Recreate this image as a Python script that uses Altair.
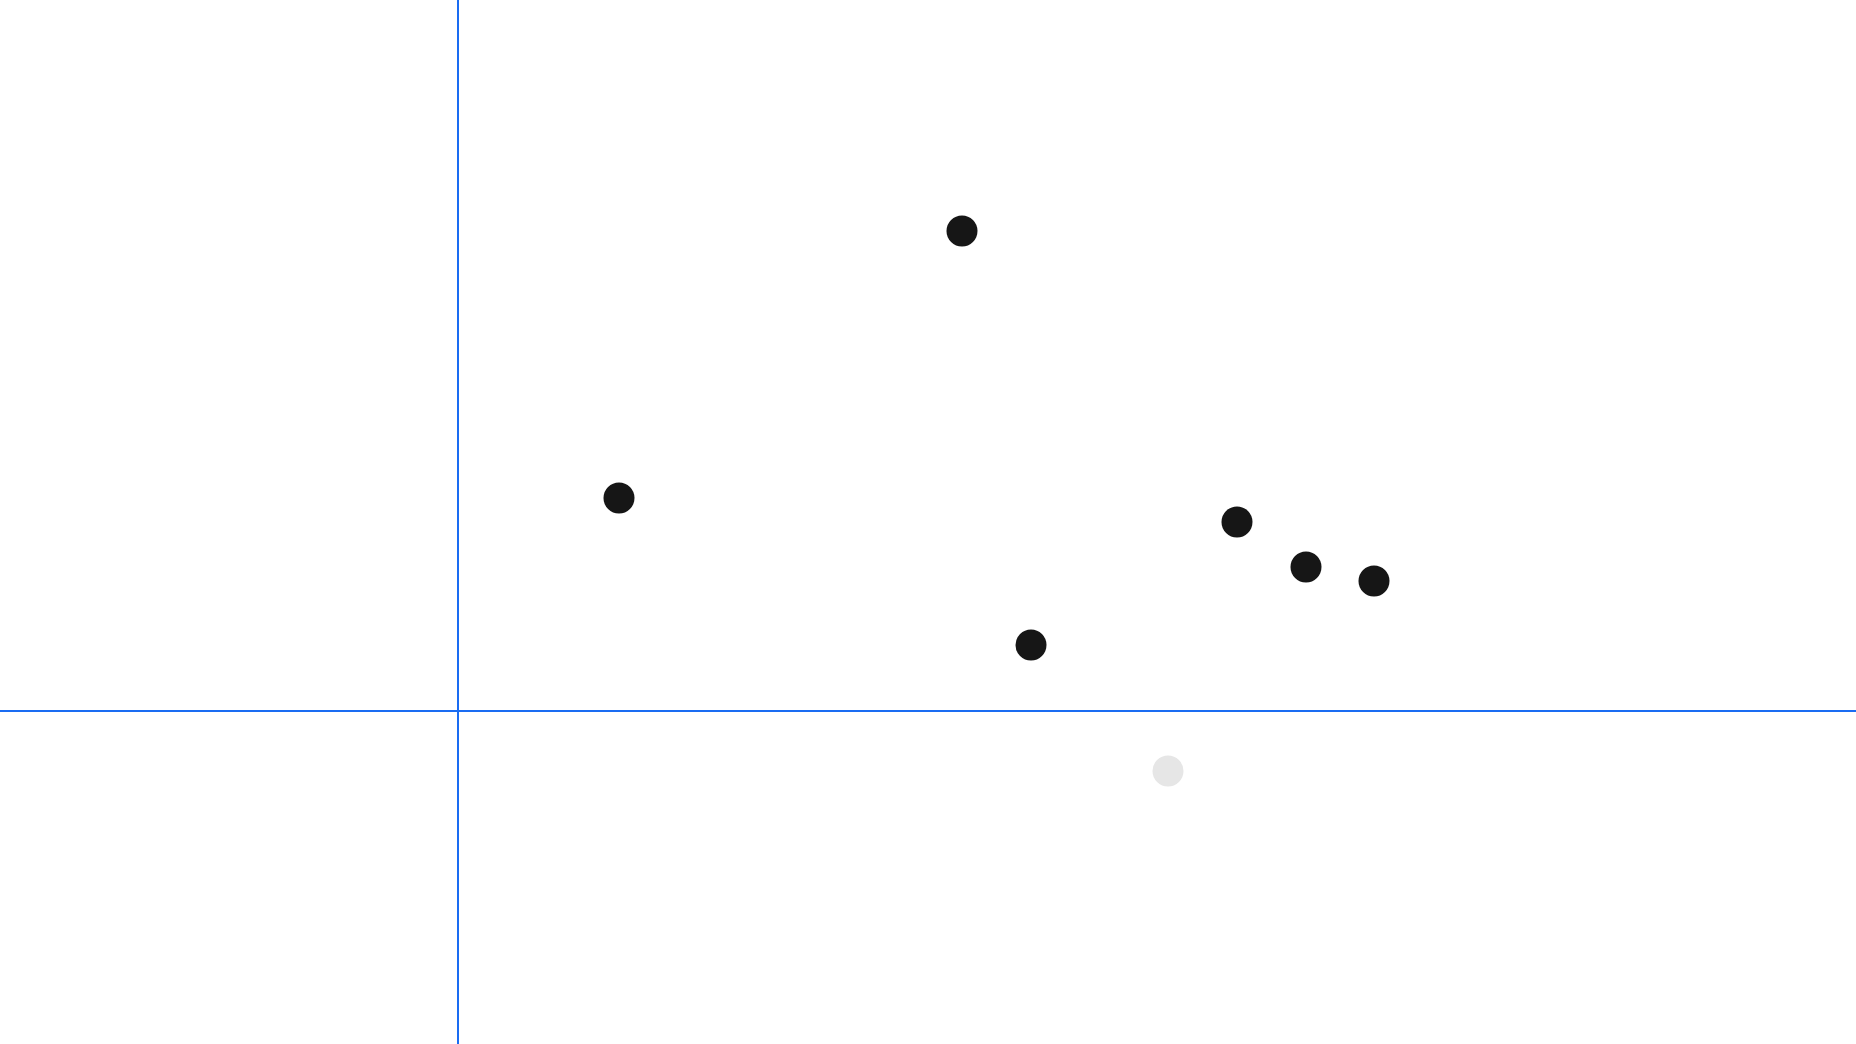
import altair as alt
import pandas as pd

# Point data (arbitrary units; origin at the crossing of the two reference lines)
labels = ["A", "B", "C", "D", "E", "F", "G"]
x_vals = [50.4, 16.1, 57.3, 77.9, 84.8, 91.6, 71.0]
y_vals = [48.0, 21.3, 6.6, 18.9, 14.4, 13.0, -6.0]
groups = ["main", "main", "main", "main", "main", "main", "faded"]

x_domain = [-45.8, 139.8]
y_domain = [-33.3, 71.1]

df = pd.DataFrame({"label": labels, "x": x_vals, "y": y_vals, "group": groups})
ref_x = pd.DataFrame({"x": [0]})
ref_y = pd.DataFrame({"y": [0]})

xs = alt.Scale(domain=x_domain, nice=False, zero=False)
ys = alt.Scale(domain=y_domain, nice=False, zero=False)

vline = alt.Chart(ref_x).mark_rule(color="#1a6cf2", strokeWidth=2).encode(
    x=alt.X("x:Q", scale=xs, axis=None)
)
hline = alt.Chart(ref_y).mark_rule(color="#1a6cf2", strokeWidth=2).encode(
    y=alt.Y("y:Q", scale=ys, axis=None)
)
points = alt.Chart(df).mark_circle(size=961, opacity=1).encode(
    x=alt.X("x:Q", scale=xs, axis=None),
    y=alt.Y("y:Q", scale=ys, axis=None),
    color=alt.Color(
        "group:N",
        scale=alt.Scale(domain=["main", "faded"], range=["#161616", "#e6e6e6"]),
        legend=None,
    ),
)

chart = (
    alt.layer(vline, hline, points)
    .properties(
        width=1856,
        height=1044,
        padding=0,
        autosize=alt.AutoSizeParams(type="none"),
        background="white",
    )
    .configure_view(stroke=None)
)

chart.save("out.html", embed_options={"renderer": "svg", "actions": False})
